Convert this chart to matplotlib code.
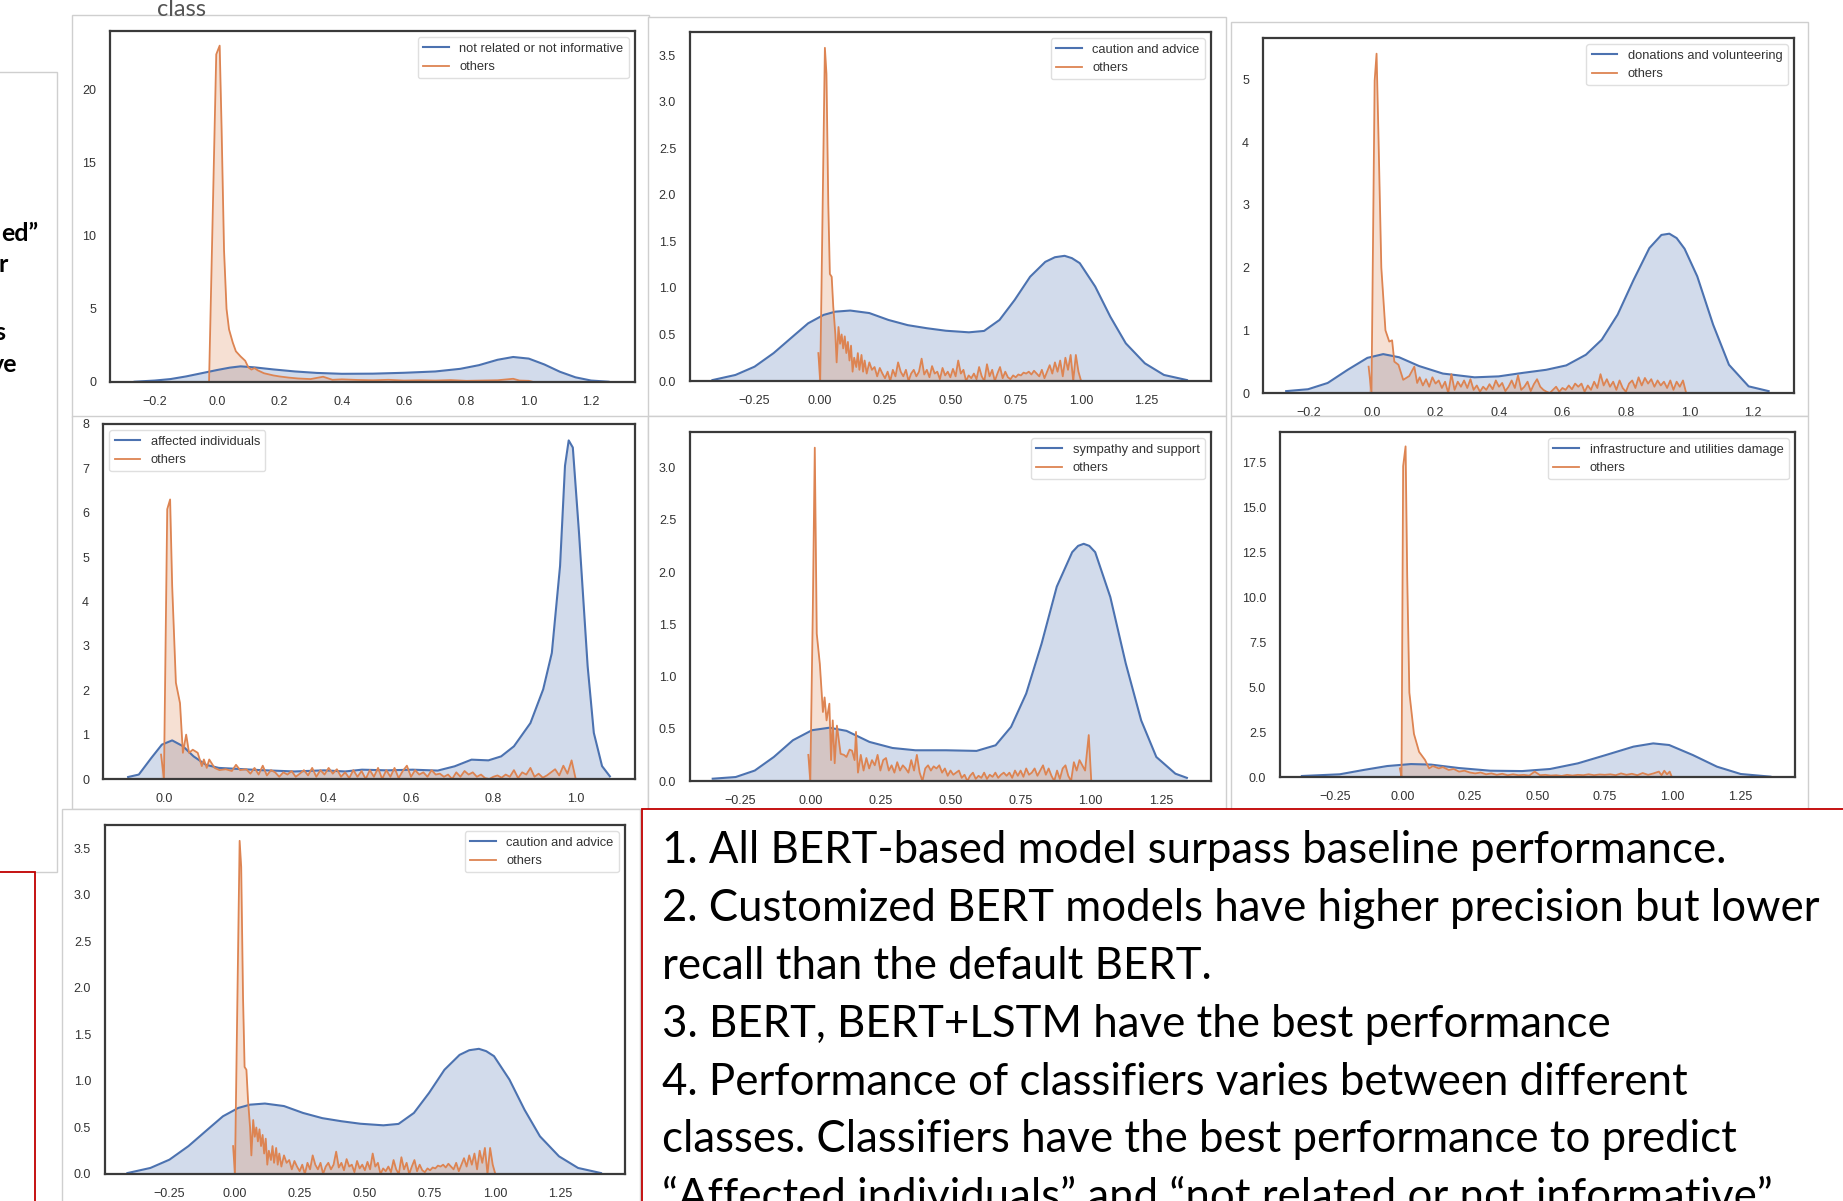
import matplotlib.pyplot as plt
from matplotlib.patches import Rectangle

W, H = 1843, 1201

BLUE = "#4C72B0"
ORANGE = "#DD8452"
RED = "#C00000"
FRAME_GRAY = "#cfcfcf"

plt.rcParams["font.family"] = ["Liberation Sans", "DejaVu Sans"]

# ---- data ----
CLASSES = [
    "not related or not informative",
    "caution and advice",
    "donations and volunteering",
    "affected individuals",
    "sympathy and support",
    "infrastructure and utilities damage",
]

# not related or not informative
NOT_RELATED_X = [-0.265, -0.2, -0.15, -0.1, -0.05, 0.0, 0.04, 0.075, 0.12, 0.18, 0.25, 0.32, 0.4,
                 0.5, 0.6, 0.7, 0.78, 0.84, 0.9, 0.95, 1.0, 1.05, 1.1, 1.15, 1.2, 1.256]
NOT_RELATED_Y = [0.02, 0.1, 0.2, 0.38, 0.6, 0.82, 0.98, 1.07, 1.0, 0.86, 0.72, 0.62, 0.56,
                 0.57, 0.63, 0.72, 0.9, 1.15, 1.52, 1.71, 1.6, 1.2, 0.7, 0.32, 0.1, 0.02]
NOT_RELATED_OTH_X = [-0.026, -0.003, 0.008, 0.014, 0.022, 0.03, 0.038, 0.05, 0.06, 0.075, 0.09, 0.1,
                     0.11, 0.12, 0.13, 0.15, 0.18, 0.2, 0.23, 0.26, 0.3, 0.34, 0.37, 0.4, 0.45, 0.5,
                     0.55, 0.6, 0.65, 0.7, 0.75, 0.8, 0.85, 0.9, 0.95, 0.97, 1.0, 1.015]
NOT_RELATED_OTH_Y = [0.1, 22.4, 23.0, 17.5, 9.0, 5.0, 3.6, 2.7, 2.1, 1.75, 1.45, 1.0,
                     0.85, 0.95, 0.8, 0.6, 0.45, 0.38, 0.3, 0.24, 0.2, 0.36, 0.15, 0.18, 0.14, 0.12,
                     0.15, 0.1, 0.12, 0.1, 0.13, 0.08, 0.1, 0.12, 0.22, 0.1, 0.08, 0.0]

# caution and advice
CAUTION_X = [-0.41, -0.322, -0.249, -0.176, -0.102, -0.044, 0.015, 0.06, 0.117, 0.19, 0.263,
             0.337, 0.41, 0.483, 0.571, 0.629, 0.688, 0.746, 0.805, 0.863, 0.9, 0.937, 0.965,
             0.995, 1.054, 1.112, 1.171, 1.244, 1.317, 1.405]
CAUTION_Y = [0.01, 0.065, 0.154, 0.3, 0.48, 0.62, 0.71, 0.745, 0.757, 0.73, 0.656,
             0.6, 0.567, 0.54, 0.523, 0.538, 0.656, 0.871, 1.12, 1.28, 1.33, 1.345, 1.32,
             1.266, 1.015, 0.69, 0.405, 0.19, 0.065, 0.01]
CAUTION_OTH_X = [-0.005, 0.002, 0.02, 0.026, 0.033, 0.039, 0.046, 0.052, 0.06, 0.065, 0.072, 0.078,
                 0.084, 0.09, 0.096, 0.102, 0.108, 0.114, 0.12, 0.126, 0.132, 0.14, 0.146, 0.152,
                 0.16, 0.166, 0.172, 0.18, 0.19, 0.2, 0.21, 0.22, 0.23, 0.24, 0.25, 0.26, 0.27,
                 0.28, 0.29, 0.3, 0.31, 0.32, 0.33, 0.34, 0.35, 0.36, 0.37, 0.38, 0.39, 0.4, 0.41,
                 0.42, 0.43, 0.44, 0.45, 0.46, 0.47, 0.48, 0.49, 0.5, 0.51, 0.52, 0.53, 0.54, 0.55,
                 0.56, 0.57, 0.58, 0.59, 0.6, 0.61, 0.62, 0.63, 0.64, 0.65, 0.66, 0.67, 0.68, 0.69,
                 0.7, 0.71, 0.72, 0.73, 0.74, 0.75, 0.76, 0.77, 0.78, 0.79, 0.8, 0.81, 0.82, 0.83,
                 0.84, 0.85, 0.86, 0.87, 0.88, 0.89, 0.9, 0.91, 0.92, 0.93, 0.94, 0.95, 0.96, 0.97,
                 0.98, 0.99, 1.0]
CAUTION_OTH_Y = [0.3, 0.0, 3.58, 3.3, 1.9, 1.15, 1.12, 0.8, 0.5, 0.2, 0.58, 0.4,
                 0.5, 0.35, 0.48, 0.3, 0.42, 0.22, 0.38, 0.1, 0.25, 0.15, 0.3, 0.12,
                 0.28, 0.1, 0.22, 0.08, 0.2, 0.12, 0.15, 0.05, 0.14, 0.08, 0.03, 0.1, 0.0,
                 0.12, 0.05, 0.2, 0.1, 0.05, 0.12, 0.0, 0.08, 0.12, 0.05, 0.1, 0.24, 0.07, 0.12,
                 0.04, 0.16, 0.08, 0.1, 0.02, 0.14, 0.06, 0.1, 0.04, 0.13, 0.05, 0.22, 0.08, 0.12,
                 0.0, 0.06, 0.03, 0.08, 0.02, 0.15, 0.05, 0.0, 0.18, 0.05, 0.12, 0.0, 0.08, 0.15,
                 0.03, 0.1, 0.04, 0.02, 0.06, 0.04, 0.07, 0.06, 0.09, 0.08, 0.1, 0.07, 0.11, 0.08,
                 0.05, 0.12, 0.03, 0.1, 0.17, 0.08, 0.2, 0.1, 0.22, 0.05, 0.25, 0.12, 0.28, 0.0,
                 0.28, 0.1, 0.0]

# donations and volunteering
DONATIONS_X = [-0.271, -0.202, -0.14, -0.077, -0.015, 0.035, 0.085, 0.148, 0.223, 0.323, 0.399,
               0.474, 0.549, 0.612, 0.674, 0.724, 0.774, 0.824, 0.874, 0.912, 0.937, 0.96, 0.985,
               1.025, 1.075, 1.125, 1.187, 1.25]
DONATIONS_Y = [0.03, 0.06, 0.16, 0.37, 0.56, 0.62, 0.57, 0.43, 0.31, 0.25, 0.265,
               0.32, 0.37, 0.44, 0.61, 0.85, 1.25, 1.8, 2.31, 2.52, 2.54, 2.47, 2.3,
               1.86, 1.09, 0.45, 0.106, 0.03]
DONATIONS_OTH_X = [-0.011, -0.002, 0.008, 0.014, 0.02, 0.029, 0.042, 0.054, 0.063, 0.07, 0.083,
                   0.098, 0.117, 0.133, 0.142, 0.15, 0.16, 0.17, 0.18, 0.19, 0.2, 0.21, 0.22, 0.23,
                   0.24, 0.25, 0.26, 0.27, 0.28, 0.29, 0.3, 0.31, 0.32, 0.33, 0.34, 0.35, 0.36,
                   0.37, 0.38, 0.39, 0.4, 0.41, 0.42, 0.43, 0.44, 0.45, 0.46, 0.47, 0.48, 0.49,
                   0.5, 0.51, 0.52, 0.53, 0.54, 0.55, 0.56, 0.57, 0.58, 0.59, 0.6, 0.61, 0.62,
                   0.63, 0.64, 0.65, 0.66, 0.67, 0.68, 0.69, 0.7, 0.71, 0.72, 0.73, 0.74, 0.75,
                   0.76, 0.77, 0.78, 0.79, 0.8, 0.81, 0.82, 0.83, 0.84, 0.85, 0.86, 0.87, 0.88,
                   0.89, 0.9, 0.91, 0.92, 0.93, 0.94, 0.95, 0.96, 0.97, 0.98, 0.99]
DONATIONS_OTH_Y = [0.42, 0.0, 4.98, 5.41, 4.1, 2.0, 1.0, 0.82, 0.84, 0.5, 0.45,
                   0.21, 0.27, 0.42, 0.16, 0.25, 0.12, 0.22, 0.1, 0.25, 0.15, 0.2, 0.08, 0.18,
                   0.0, 0.3, 0.05, 0.18, 0.1, 0.2, 0.08, 0.22, 0.05, 0.12, 0.02, 0.1, 0.05,
                   0.14, 0.06, 0.2, 0.1, 0.16, 0.03, 0.1, 0.2, 0.08, 0.28, 0.05, 0.1, 0.18,
                   0.03, 0.14, 0.22, 0.1, 0.05, 0.02, 0.0, 0.05, 0.1, 0.02, 0.08, 0.05, 0.12,
                   0.06, 0.15, 0.1, 0.15, 0.02, 0.12, 0.05, 0.18, 0.08, 0.3, 0.12, 0.22, 0.1,
                   0.18, 0.05, 0.2, 0.08, 0.02, 0.15, 0.2, 0.08, 0.25, 0.12, 0.24, 0.15, 0.22,
                   0.1, 0.2, 0.12, 0.18, 0.08, 0.2, 0.05, 0.18, 0.1, 0.2, 0.0]

# affected individuals
AFFECTED_X = [-0.087, -0.061, -0.031, -0.005, 0.02, 0.046, 0.072, 0.102, 0.133, 0.174, 0.235,
              0.317, 0.389, 0.44, 0.481, 0.542, 0.604, 0.665, 0.706, 0.747, 0.788, 0.819, 0.85,
              0.89, 0.921, 0.942, 0.962, 0.974, 0.983, 0.993, 1.008, 1.029, 1.044, 1.064, 1.083]
AFFECTED_Y = [0.045, 0.1, 0.47, 0.775, 0.87, 0.74, 0.51, 0.32, 0.25, 0.23, 0.2,
              0.17, 0.195, 0.17, 0.21, 0.195, 0.21, 0.19, 0.286, 0.436, 0.42, 0.51, 0.737,
              1.26, 2.02, 2.84, 4.8, 7.06, 7.63, 7.47, 5.55, 2.54, 1.04, 0.29, 0.06]
AFFECTED_OTH_X = [-0.007, 0.0, 0.008, 0.015, 0.02, 0.029, 0.039, 0.046, 0.054, 0.061, 0.07, 0.082,
                  0.092, 0.097, 0.104, 0.11, 0.123, 0.135, 0.15, 0.165, 0.175, 0.185, 0.2, 0.21,
                  0.22, 0.23, 0.24, 0.25, 0.26, 0.27, 0.28, 0.29, 0.3, 0.31, 0.32, 0.33, 0.34,
                  0.35, 0.36, 0.37, 0.38, 0.39, 0.4, 0.41, 0.42, 0.43, 0.44, 0.45, 0.46, 0.47,
                  0.48, 0.49, 0.5, 0.51, 0.52, 0.53, 0.54, 0.55, 0.56, 0.57, 0.58, 0.59, 0.6,
                  0.61, 0.62, 0.63, 0.64, 0.65, 0.66, 0.67, 0.68, 0.69, 0.7, 0.71, 0.72, 0.73,
                  0.74, 0.75, 0.76, 0.77, 0.78, 0.79, 0.8, 0.81, 0.82, 0.83, 0.84, 0.85, 0.86,
                  0.87, 0.88, 0.89, 0.9, 0.91, 0.92, 0.93, 0.94, 0.95, 0.96, 0.97, 0.98, 0.99, 1.0]
AFFECTED_OTH_Y = [0.55, 0.0, 6.08, 6.3, 4.35, 2.17, 1.71, 0.59, 1.0, 0.59, 0.66, 0.59,
                  0.29, 0.44, 0.25, 0.44, 0.25, 0.2, 0.22, 0.18, 0.32, 0.2, 0.22, 0.12,
                  0.25, 0.1, 0.3, 0.08, 0.2, 0.15, 0.05, 0.15, 0.1, 0.18, 0.05, 0.12, 0.2,
                  0.08, 0.25, 0.05, 0.2, 0.1, 0.25, 0.12, 0.22, 0.05, 0.15, 0.02, 0.2, 0.05,
                  0.18, 0.0, 0.2, 0.05, 0.25, 0.0, 0.2, 0.05, 0.25, 0.02, 0.18, 0.3, 0.05,
                  0.2, 0.1, 0.15, 0.05, 0.2, 0.1, 0.12, 0.05, 0.1, 0.0, 0.15, 0.05, 0.18,
                  0.1, 0.15, 0.05, 0.1, 0.02, 0.0, 0.05, 0.08, 0.03, 0.1, 0.05, 0.2, 0.02,
                  0.15, 0.1, 0.25, 0.05, 0.12, 0.03, 0.08, 0.15, 0.22, 0.08, 0.3, 0.12, 0.42, 0.0]

# sympathy and support
SYMPATHY_X = [-0.348, -0.266, -0.198, -0.13, -0.062, 0.006, 0.068, 0.129, 0.211, 0.293, 0.375,
              0.484, 0.593, 0.661, 0.716, 0.77, 0.825, 0.879, 0.934, 0.955, 0.975, 0.995, 1.016,
              1.07, 1.125, 1.18, 1.234, 1.302, 1.343]
SYMPATHY_Y = [0.022, 0.038, 0.1, 0.23, 0.39, 0.486, 0.51, 0.48, 0.374, 0.316, 0.294,
              0.294, 0.288, 0.342, 0.518, 0.837, 1.316, 1.86, 2.19, 2.25, 2.27, 2.25, 2.19,
              1.76, 1.125, 0.58, 0.23, 0.07, 0.03]
SYMPATHY_OTH_X = [-0.007, 0.0, 0.009, 0.016, 0.023, 0.034, 0.045, 0.051, 0.058, 0.068, 0.074, 0.08,
                  0.087, 0.095, 0.108, 0.12, 0.129, 0.14, 0.149, 0.158, 0.163, 0.17, 0.18, 0.19,
                  0.2, 0.21, 0.22, 0.23, 0.24, 0.25, 0.26, 0.27, 0.28, 0.29, 0.3, 0.31, 0.32,
                  0.33, 0.34, 0.35, 0.36, 0.37, 0.38, 0.39, 0.4, 0.41, 0.42, 0.43, 0.44, 0.45,
                  0.46, 0.47, 0.48, 0.49, 0.5, 0.51, 0.52, 0.53, 0.54, 0.55, 0.56, 0.57, 0.58,
                  0.59, 0.6, 0.61, 0.62, 0.63, 0.64, 0.65, 0.66, 0.67, 0.68, 0.69, 0.7, 0.71,
                  0.72, 0.73, 0.74, 0.75, 0.76, 0.77, 0.78, 0.79, 0.8, 0.81, 0.82, 0.83, 0.84,
                  0.85, 0.86, 0.87, 0.88, 0.89, 0.9, 0.91, 0.92, 0.93, 0.94, 0.95, 0.96, 0.97,
                  0.98, 0.993, 1.002]
SYMPATHY_OTH_Y = [0.25, 0.0, 1.64, 3.19, 1.41, 1.12, 0.66, 0.8, 0.58, 0.74, 0.2, 0.58,
                  0.17, 0.53, 0.26, 0.25, 0.23, 0.3, 0.29, 0.2, 0.47, 0.08, 0.25, 0.1,
                  0.22, 0.12, 0.2, 0.15, 0.25, 0.1, 0.2, 0.22, 0.1, 0.15, 0.08, 0.18, 0.1,
                  0.15, 0.12, 0.08, 0.2, 0.1, 0.25, 0.08, 0.0, 0.12, 0.15, 0.1, 0.14, 0.12,
                  0.15, 0.08, 0.12, 0.05, 0.1, 0.06, 0.08, 0.1, 0.03, 0.06, 0.0, 0.05, 0.08,
                  0.02, 0.05, 0.03, 0.08, 0.02, 0.06, 0.04, 0.08, 0.03, 0.06, 0.08, 0.05, 0.08,
                  0.03, 0.1, 0.05, 0.1, 0.04, 0.12, 0.06, 0.08, 0.12, 0.05, 0.1, 0.15, 0.06,
                  0.12, 0.05, 0.0, 0.1, 0.02, 0.12, 0.15, 0.05, 0.0, 0.18, 0.1, 0.2, 0.15,
                  0.1, 0.44, 0.0]

# infrastructure and utilities damage
INFRA_X = [-0.372, -0.232, -0.144, -0.056, 0.032, 0.106, 0.209, 0.326, 0.444, 0.547, 0.65,
           0.753, 0.856, 0.929, 0.988, 1.076, 1.165, 1.253, 1.363]
INFRA_Y = [0.056, 0.15, 0.39, 0.61, 0.72, 0.69, 0.5, 0.35, 0.33, 0.445, 0.76,
           1.22, 1.69, 1.87, 1.78, 1.22, 0.575, 0.167, 0.02]
INFRA_OTH_X = [-0.009, -0.003, 0.003, 0.012, 0.018, 0.026, 0.043, 0.062, 0.084, 0.099, 0.113,
               0.135, 0.15, 0.172, 0.19, 0.21, 0.23, 0.25, 0.27, 0.29, 0.31, 0.33, 0.35, 0.37,
               0.39, 0.41, 0.43, 0.45, 0.47, 0.49, 0.51, 0.53, 0.55, 0.57, 0.59, 0.61, 0.63,
               0.65, 0.67, 0.69, 0.71, 0.73, 0.75, 0.77, 0.79, 0.81, 0.83, 0.85, 0.87, 0.89,
               0.91, 0.93, 0.95, 0.96, 0.97, 0.98, 0.99, 0.998]
INFRA_OTH_Y = [0.48, 0.0, 17.3, 18.4, 11.2, 4.7, 2.4, 1.4, 0.95, 0.48, 0.61,
               0.48, 0.55, 0.39, 0.45, 0.3, 0.35, 0.25, 0.2, 0.25, 0.15, 0.2, 0.12, 0.18,
               0.1, 0.15, 0.1, 0.12, 0.08, 0.3, 0.1, 0.12, 0.08, 0.1, 0.06, 0.12, 0.08,
               0.12, 0.1, 0.15, 0.1, 0.14, 0.12, 0.15, 0.1, 0.2, 0.12, 0.18, 0.1, 0.22,
               0.12, 0.2, 0.3, 0.1, 0.35, 0.15, 0.3, 0.0]

NOTES = [
    "1. All BERT-based model surpass baseline performance.",
    "2. Customized BERT models have higher precision but lower",
    "recall than the default BERT.",
    "3. BERT, BERT+LSTM have the best performance",
    "4. Performance of classifiers varies between different",
    "classes. Classifiers have the best performance to predict",
    "\u201cAffected individuals\u201d and \u201cnot related or not informative\u201d",
]
LEFT_FRAGMENTS = ["ed\u201d", "r", "s", "ve"]


def px_box(x0, y0, x1, y1):
    return [x0 / W, 1 - y1 / H, (x1 - x0) / W, (y1 - y0) / H]


def add_frame(fig, x0, y0, x1, y1, z, edge=FRAME_GRAY, lw=1.0):
    fig.patches.append(Rectangle(
        (x0 / W, 1 - y1 / H), (x1 - x0) / W, (y1 - y0) / H,
        transform=fig.transFigure, facecolor="white", edgecolor=edge,
        linewidth=lw, zorder=z))


TICKS_25 = [-0.25, 0.0, 0.25, 0.5, 0.75, 1.0, 1.25]
TICKS_2 = [-0.2, 0.0, 0.2, 0.4, 0.6, 0.8, 1.0, 1.2]

# (label, blue x, blue y, other x, other y, axes box, frame box, xlim, ylim, xticks, yticks, legend loc)
PANELS = [
    (CLASSES[0], NOT_RELATED_X, NOT_RELATED_Y, NOT_RELATED_OTH_X, NOT_RELATED_OTH_Y,
     (110, 31, 635, 382), (72, 15, 649, 417), (-0.344, 1.341), (0, 24.0),
     TICKS_2, [0, 5, 10, 15, 20], "upper right"),
    (CLASSES[1], CAUTION_X, CAUTION_Y, CAUTION_OTH_X, CAUTION_OTH_Y,
     (690, 32, 1211, 381), (648, 17, 1226, 416), (-0.496, 1.497), (0, 3.75),
     TICKS_25, [0, 0.5, 1.0, 1.5, 2.0, 2.5, 3.0, 3.5], "upper right"),
    (CLASSES[2], DONATIONS_X, DONATIONS_Y, DONATIONS_OTH_X, DONATIONS_OTH_Y,
     (1263, 38, 1794, 393), (1231, 22, 1808, 416), (-0.344, 1.33), (0, 5.66),
     TICKS_2, [0, 1, 2, 3, 4, 5], "upper right"),
    (CLASSES[3], AFFECTED_X, AFFECTED_Y, AFFECTED_OTH_X, AFFECTED_OTH_Y,
     (103, 424, 635, 779), (72, 416, 648, 809), (-0.148, 1.144), (0, 8.0),
     [0.0, 0.2, 0.4, 0.6, 0.8, 1.0], [0, 1, 2, 3, 4, 5, 6, 7, 8], "upper left"),
    (CLASSES[4], SYMPATHY_X, SYMPATHY_Y, SYMPATHY_OTH_X, SYMPATHY_OTH_Y,
     (690, 432, 1211, 781), (648, 416, 1226, 815), (-0.429, 1.429), (0, 3.34),
     TICKS_25, [0, 0.5, 1.0, 1.5, 2.0, 2.5, 3.0], "upper right"),
    (CLASSES[5], INFRA_X, INFRA_Y, INFRA_OTH_X, INFRA_OTH_Y,
     (1280, 432, 1795, 777), (1231, 416, 1808, 813), (-0.453, 1.454), (0, 19.2),
     TICKS_25, [0, 2.5, 5.0, 7.5, 10.0, 12.5, 15.0, 17.5], "upper right"),
    (CLASSES[1], CAUTION_X, CAUTION_Y, CAUTION_OTH_X, CAUTION_OTH_Y,
     (105, 825, 625, 1174), (62, 809, 640, 1215), (-0.496, 1.497), (0, 3.75),
     TICKS_25, [0, 0.5, 1.0, 1.5, 2.0, 2.5, 3.0, 3.5], "upper right"),
]


def main():
    fig = plt.figure(figsize=(W / 100, H / 100), dpi=100)

    # left slide text box (mostly cut off)
    add_frame(fig, -5, 72, 57, 872, 1)

    for i, (label, bx, by, ox, oy, box, frame, xlim, ylim, xt, yt, loc) in enumerate(PANELS):
        z = 2 + 2 * i
        add_frame(fig, *frame, z)
        ax = fig.add_axes(px_box(*box), zorder=z + 1)
        ax.fill_between(bx, by, color=BLUE, alpha=0.25, linewidth=0)
        ax.plot(bx, by, color=BLUE, linewidth=1.5, label=label)
        ax.fill_between(ox, oy, color=ORANGE, alpha=0.25, linewidth=0)
        ax.plot(ox, oy, color=ORANGE, linewidth=1.3, label="others")
        ax.set_xlim(*xlim)
        ax.set_ylim(*ylim)
        ax.set_xticks(xt)
        ax.set_yticks(yt)
        ax.tick_params(axis="both", length=0, labelsize=9, colors="#333333")
        ax.tick_params(axis="x", pad=10)
        ax.tick_params(axis="y", pad=10)
        for s in ax.spines.values():
            s.set_color("#3a3a3a")
            s.set_linewidth(1.6)
        leg = ax.legend(loc=loc, fontsize=9.3, frameon=True, fancybox=True,
                        borderaxespad=0.5, handlelength=2.0)
        leg.get_frame().set_edgecolor("#d8d8d8")
        for t in leg.get_texts():
            t.set_color("#333333")

    # red bordered boxes from the slide
    add_frame(fig, -5, 872, 35, 1215, 30, edge=RED, lw=1.3)
    add_frame(fig, 642, 809, 1850, 1215, 30, edge=RED, lw=1.3)

    fig.text(182 / W, 1 - 16 / H, "class", family=["Lato", "DejaVu Sans"], fontsize=17,
             color="#555555", ha="center", va="baseline", zorder=40)

    frag_pos = [(38, 241), (8, 272), (5, 340), (17, 372)]
    for frag, (fx, fy) in zip(LEFT_FRAGMENTS, frag_pos):
        fig.text(fx / W, 1 - fy / H, frag, family=["Lato", "DejaVu Sans"],
                 fontweight="bold", fontsize=18, color="black",
                 ha="right", va="baseline", zorder=40)

    for k, line in enumerate(NOTES):
        y = 863 + k * 57.9
        fig.text(662 / W, 1 - y / H, line, family=["Lato", "DejaVu Sans"],
                 fontsize=31.5, color="black", ha="left", va="baseline", zorder=40)

    fig.savefig("out.png", dpi=100)


if __name__ == "__main__":
    main()
